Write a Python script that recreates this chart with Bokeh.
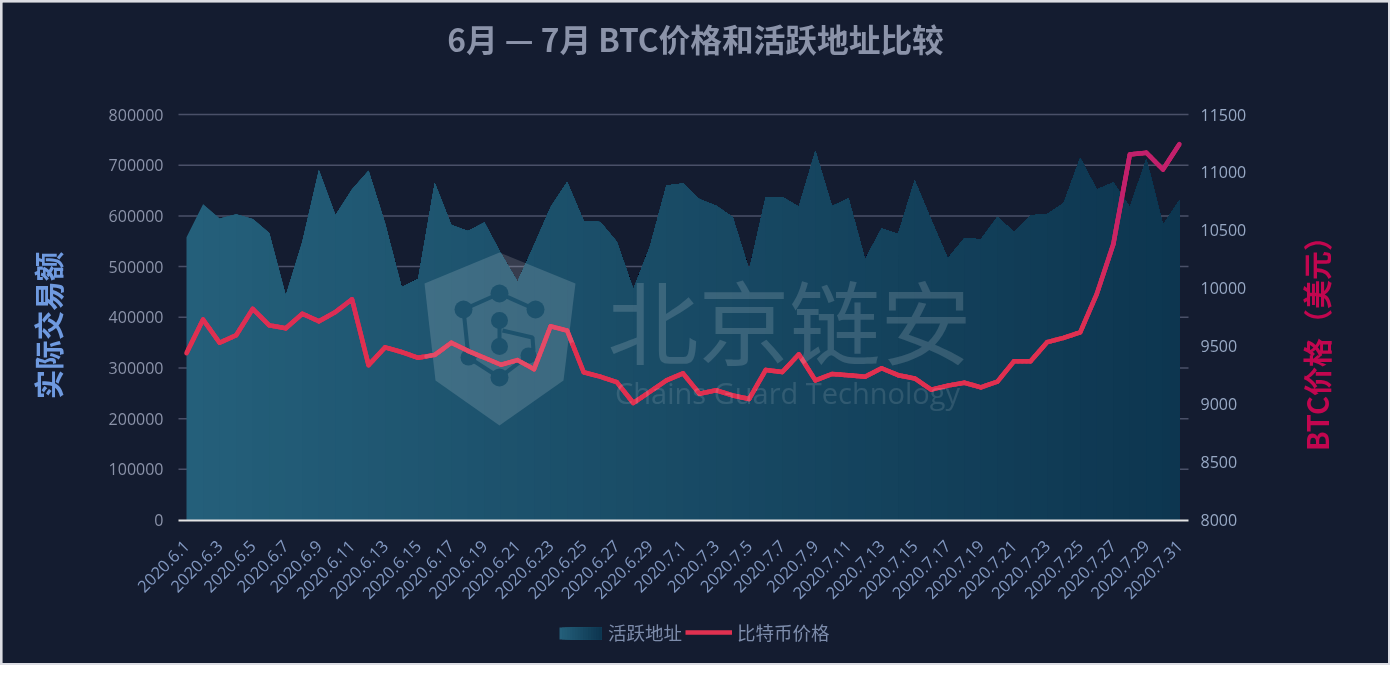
import math
import numpy as np
from bokeh.embed import file_html
from bokeh.resources import INLINE
from bokeh.plotting import figure
from bokeh.models import (Range1d, LinearAxis, FixedTicker, Label, Legend, LegendItem,
                          BoxAnnotation, ColumnDataSource, BasicTickFormatter)

dates_june = [f"2020.6.{d}" for d in range(1, 31)]
dates_july = [f"2020.7.{d}" for d in range(1, 32)]
dates = dates_june + dates_july

active_addresses = [
    558000, 623000, 595000, 603000, 594000, 566000, 443000, 549000, 690000, 601000,
    652000, 689000, 585000, 459000, 476000, 665000, 582000, 570000, 587000, 526000,
    470000, 542000, 617000, 667000, 590000, 588000, 549000, 455000, 539000, 660000,
    664000, 633000, 620000, 598000, 493000, 637000, 637000, 618000, 728000, 619000,
    635000, 514000, 575000, 564000, 670000, 592000, 516000, 556000, 554000, 598000,
    568000, 601000, 603000, 625000, 714000, 652000, 666000, 617000, 712000, 582000,
    631000,
]
btc_price = [
    9440, 9730, 9530, 9595, 9822, 9680, 9655, 9780, 9715, 9795,
    9905, 9337, 9490, 9450, 9400, 9425, 9530, 9460, 9400, 9340,
    9380, 9302, 9672, 9635, 9275, 9237, 9190, 9010, 9107, 9205,
    9265, 9090, 9120, 9075, 9045, 9295, 9277, 9430, 9205, 9260,
    9250, 9237, 9310, 9250, 9222, 9125, 9160, 9185, 9145, 9195,
    9370, 9370, 9535, 9572, 9620, 9950, 10380, 11155, 11170, 11025,
    11245,
]
left_ticks = [0, 100000, 200000, 300000, 400000, 500000, 600000, 700000, 800000]
right_ticks = [8000, 8500, 9000, 9500, 10000, 10500, 11000, 11500]

title_text = "6月 — 7月 BTC价格和活跃地址比较"
left_title = "实际交易额"
right_title = "BTC价格（美元）"
series_names = ["活跃地址", "比特币价格"]

BG = "#141c30"
CJK = "'Open Sans', 'Noto Sans CJK SC'"
HEAD = "'Noto Sans CJK SC'"
AREA_L = (36, 95, 122)
AREA_R = (13, 54, 80)
RED = (224, 48, 80)
MAG = (194, 32, 108)


def hexc(c):
    return "#%02x%02x%02x" % tuple(int(round(v)) for v in c)


def mix(a, b, t):
    return tuple(a[i] + (b[i] - a[i]) * t for i in range(3))


n = len(dates)
xs = list(range(n))
# page geometry of the axes box
PAGE_L, PAGE_R, PAGE_T, PAGE_B = 2, 1388, 2, 663
AX_L, AX_R, AX_T, AX_B = 178, 1188, 114, 519.5
px_per = 993 / 60
val_per = 800000 / (AX_B - AX_T)
price_per = 3500 / (AX_B - AX_T)
idx_of = lambda page_x: (page_x - 186) / px_per

p = figure(width=PAGE_R - PAGE_L, height=PAGE_B - PAGE_T, output_backend="svg", toolbar_location=None,
           frame_width=PAGE_R - PAGE_L, frame_height=PAGE_B - PAGE_T,
           min_border=0, min_border_left=0, min_border_right=0, min_border_top=0, min_border_bottom=0,
           x_range=Range1d(idx_of(PAGE_L), idx_of(PAGE_R)),
           y_range=Range1d((AX_B - PAGE_B) * val_per, (AX_B - PAGE_T) * val_per),
           background_fill_color=BG, border_fill_color=BG, outline_line_color=None,
           x_axis_location=None, y_axis_location=None)
p.center = []
p.styles = {"position": "fixed", "left": "2px", "top": "2px", "box-shadow": "0 0 0 2px #dcdde3"}
p.extra_y_ranges = {"price": Range1d(8000 + (AX_B - PAGE_B) * price_per, 8000 + (AX_B - PAGE_T) * price_per),
                    "py": Range1d(PAGE_B, PAGE_T)}
p.extra_x_ranges = {"px": Range1d(PAGE_L, PAGE_R)}

# grid
p.segment(x0=[idx_of(AX_L)] * 8, x1=[idx_of(AX_R)] * 8, y0=left_ticks[1:], y1=left_ticks[1:],
          line_color="#4a5068", line_width=1.5)

# area: horizontal gradient, painted left to right
for i in range(n - 1):
    c = hexc(mix(AREA_L, AREA_R, i / (n - 2)))
    p.varea(x=xs[i:], y1=[0] * (n - i), y2=active_addresses[i:], fill_color=c)
area_key = p.varea(x=xs, y1=[0] * n, y2=active_addresses, fill_alpha=0)

# watermark shield + logo
mid_area = hexc(mix(AREA_L, AREA_R, 19 / 60))
shield_x = [499, 575, 563, 499, 435, 424]
shield_y = [252, 283, 380, 425, 380, 283]
p.patch(shield_x, shield_y, x_range_name="px", y_range_name="py", fill_color="#ffffff", fill_alpha=0.15, line_color=None)
node_x = [499, 463, 535, 499, 499, 468, 528, 499]
node_y = [293, 309, 309, 320, 346, 357, 355, 377]
node_s = [18, 18, 18, 17, 17, 16, 16, 18]
link_x = [[463, 499, 535], [463, 468, 499, 528, 533, 532, 502], [499, 499]]
link_y = [[309, 293, 309], [309, 357, 377, 355, 350, 337, 330], [320, 346]]
p.multi_line(link_x, link_y, x_range_name="px", y_range_name="py", line_color=mid_area, line_width=4)
p.scatter(node_x, node_y, size=node_s, x_range_name="px", y_range_name="py", fill_color=mid_area, line_color=None)

# price line: base line plus vertical colour gradient
base = p.line(xs, btc_price, y_range_name="price", line_color=hexc(RED), line_width=4.5, line_join="round")


def price_colour(v, x):
    c = mix(RED, MAG, min(1.0, max(0.0, (v - 9600) / 1200)))
    page_x = 186 + x * px_per
    if 427 < page_x < 572:
        c = mix(c, (255, 255, 255), 0.13)
    return hexc(c)


seg = dict(x0=[], y0=[], x1=[], y1=[], c=[])
for i in range(n - 1):
    a, b = btc_price[i], btc_price[i + 1]
    k = max(4, int(abs(b - a) / 40))
    ts = np.linspace(0, 1, k + 1)
    for s, e in zip(ts[:-1], ts[1:]):
        seg["x0"].append(i + s)
        seg["x1"].append(i + e)
        seg["y0"].append(a + (b - a) * s)
        seg["y1"].append(a + (b - a) * e)
        seg["c"].append(price_colour(a + (b - a) * (s + e) / 2, i + (s + e) / 2))
p.segment("x0", "y0", "x1", "y1", source=ColumnDataSource(seg), y_range_name="price",
          line_color="c", line_width=4.5, line_cap="round")

# axes placed at fixed positions inside the full-page frame
xaxis = LinearAxis(ticker=FixedTicker(ticks=xs[::2]), fixed_location=0,
                   bounds=(idx_of(AX_L), idx_of(AX_R)),
                   major_label_overrides={i: dates[i] for i in xs[::2]},
                   major_label_orientation=math.pi / 4,
                   major_label_text_font=CJK, major_label_text_font_size="16.5px",
                   major_label_text_color="#8298c0", major_label_standoff=17,
                   major_tick_line_color=None, minor_tick_line_color=None,
                   axis_line_color="#e4e4e4", axis_line_width=2)
p.add_layout(xaxis, "below")
laxis = LinearAxis(ticker=FixedTicker(ticks=left_ticks), fixed_location=idx_of(AX_L), bounds=(0, 800000),
                   formatter=BasicTickFormatter(use_scientific=False), major_label_text_font=CJK,
                   major_label_text_font_size="16px", major_label_text_color="#8b93a9",
                   major_label_standoff=9, major_tick_line_color=None, minor_tick_line_color=None,
                   axis_line_color=None)
p.add_layout(laxis, "left")
raxis = LinearAxis(y_range_name="price", ticker=FixedTicker(ticks=right_ticks), fixed_location=idx_of(AX_R),
                   bounds=(8000, 11500), major_label_text_font=CJK,
                   major_label_text_font_size="16px", major_label_text_color="#97a8c4",
                   major_label_standoff=6, major_tick_line_color=None, minor_tick_line_color=None,
                   axis_line_color=None)
p.add_layout(raxis, "right")

# watermark text
p.add_layout(Label(x=789, y=317, x_range_name="px", y_range_name="py", text="北京链安",
                   text_font="'Noto Sans CJK SC'", text_font_size="91px", text_color="#ffffff", text_alpha=0.15,
                   text_align="center", text_baseline="middle"))
p.add_layout(Label(x=787, y=392, x_range_name="px", y_range_name="py", text="Chains Guard Technology",
                   text_font="'Open Sans'", text_font_size="29px", text_color="#ffffff", text_alpha=0.12,
                   text_align="center", text_baseline="middle"))

# titles
p.add_layout(Label(x=695, y=37, x_range_name="px", y_range_name="py", text=title_text,
                   text_font=HEAD, text_font_style="bold", text_font_size="31.7px", text_color="#8b93a9",
                   text_align="center", text_baseline="middle"))
p.add_layout(Label(x=46, y=325, x_range_name="px", y_range_name="py", text=left_title, angle=math.pi / 2,
                   text_font=HEAD, text_font_style="bold", text_font_size="29.5px", text_color="#6f9ae0",
                   text_align="center", text_baseline="middle"))
p.add_layout(Label(x=1315, y=336, x_range_name="px", y_range_name="py", text=right_title, angle=math.pi / 2,
                   text_font=HEAD, text_font_style="bold", text_font_size="29px", text_color="#c2064f",
                   text_align="center", text_baseline="middle"))

# legend
legend = Legend(items=[LegendItem(label=series_names[0], renderers=[area_key]),
                       LegendItem(label=series_names[1], renderers=[base])],
                orientation="horizontal", location=(554, 18), margin=0, padding=0, spacing=3,
                glyph_width=47, glyph_height=12, label_standoff=5, label_height=20,
                label_text_font=CJK, label_text_font_size="18.5px", label_text_color="#7d8cab",
                background_fill_alpha=0, border_line_color=None)
p.add_layout(legend, "center")
for i in range(16):
    p.add_layout(BoxAnnotation(left=559 + i * 42 / 16, right=601, top=627, bottom=639,
                               x_range_name="px", y_range_name="py", line_color=None,
                               fill_alpha=1, fill_color=hexc(mix(AREA_L, AREA_R, i / 15))))

open("out.html", "w").write(file_html(p, INLINE))
